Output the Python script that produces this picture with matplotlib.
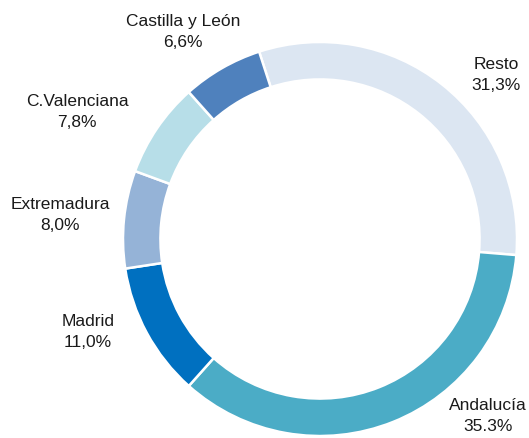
import matplotlib
matplotlib.use("Agg")
import matplotlib.pyplot as plt
from matplotlib import font_manager

regions = ["Resto", "Andalucía", "Madrid", "Extremadura", "C.Valenciana", "Castilla y León"]
shares = [31.3, 35.3, 11.0, 8.0, 7.8, 6.6]
share_labels = ["31,3%", "35.3%", "11,0%", "8,0%", "7,8%", "6,6%"]
colors = ["#dce6f2", "#4bacc6", "#0070c0", "#95b3d7", "#b7dee8", "#4f81bd"]

# label anchor positions in pixel coords (x, y from top)
label_pos = [(496, 75), (488, 416), (88, 332), (60, 215), (77, 112), (183, 32)]

names = {f.name for f in font_manager.fontManager.ttflist}
fam = "Liberation Sans Narrow" if "Liberation Sans Narrow" in names else "Liberation Sans"
plt.rcParams['font.family'] = [fam, 'DejaVu Sans']

W, H = 529, 439
fig = plt.figure(figsize=(W / 100, H / 100), dpi=100)
ax = fig.add_axes([0, 0, 1, 1])

cx, cy, r = 320, H - 240, 197
ax.pie(shares, colors=colors, startangle=108, counterclock=False,
       center=(cx, cy), radius=r, frame=True,
       wedgeprops=dict(width=r * 0.19, edgecolor='white', linewidth=1.8))
ax.set_xlim(0, W)
ax.set_ylim(0, H)
ax.set_aspect('equal')
ax.axis('off')

for name, lab, (x, y) in zip(regions, share_labels, label_pos):
    ax.text(x, H - y, f"{name}\n{lab}", ha='center', va='center',
            fontsize=12.5, color='#1a1a1a', linespacing=1.5)

fig.savefig("out.png", dpi=100)
